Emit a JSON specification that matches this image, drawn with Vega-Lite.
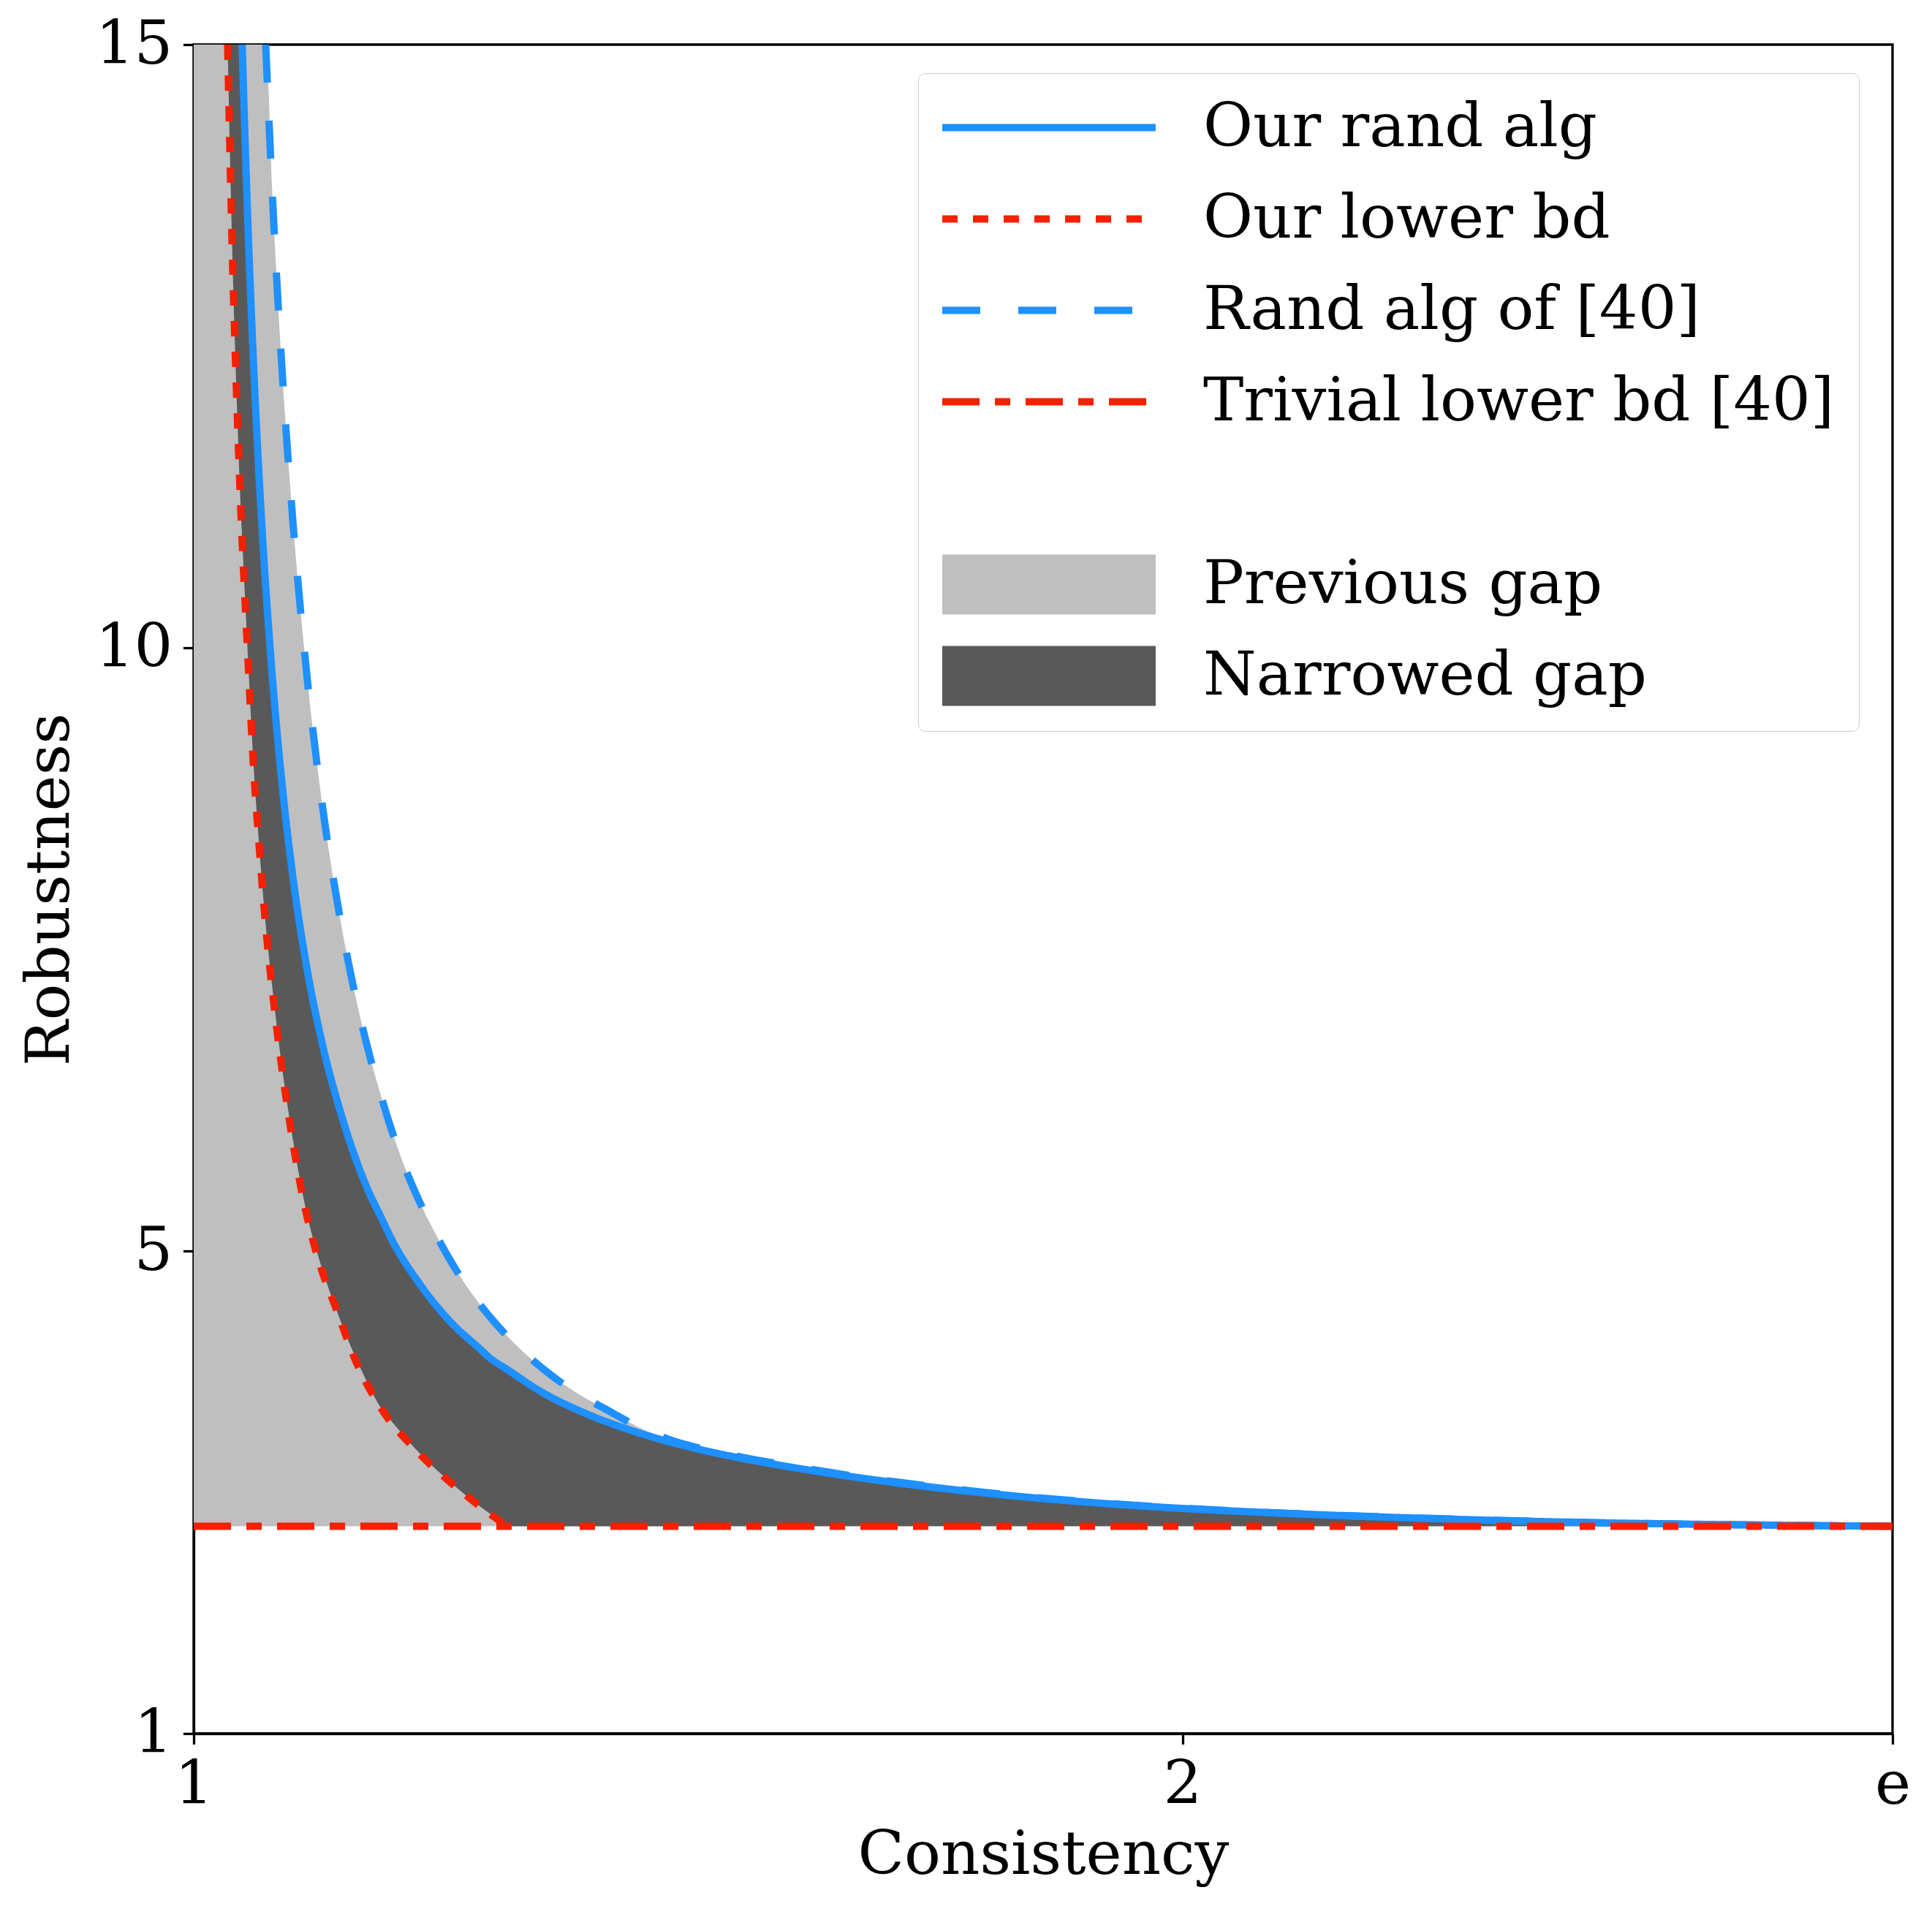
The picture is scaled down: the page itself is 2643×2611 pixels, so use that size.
{
  "$schema": "https://vega.github.io/schema/vega-lite/v6.json",
  "width": 2324,
  "height": 2310,
  "autosize": {"type": "none"},
  "padding": {"left": 265, "top": 61, "right": 54, "bottom": 240},
  "background": "white",
  "config": {
    "font": "DejaVu Serif",
    "view": {"stroke": "black", "strokeWidth": 3.3},
    "axis": {
      "grid": false,
      "labelFont": "DejaVu Serif",
      "labelFontSize": 83,
      "labelColor": "black",
      "labelLimit": 600,
      "titleFont": "DejaVu Serif",
      "titleFontSize": 83,
      "titleFontWeight": "normal",
      "titleColor": "black",
      "domainColor": "black",
      "domainWidth": 3.3,
      "tickColor": "black",
      "tickWidth": 3.3,
      "tickSize": 14.6,
      "labelPadding": 14.6,
      "labelFlush": false,
      "labelOverlap": false,
      "labelBound": false
    }
  },
  "datasets": {
    "gaps": [
      {"label": "Previous gap", "c": 1.0, "top": 15, "bottom": 2.71828},
      {"label": "Previous gap", "c": 1.0728, "top": 15, "bottom": 2.71828},
      {"label": "Previous gap", "c": 1.08, "top": 13.68, "bottom": 2.71828},
      {"label": "Previous gap", "c": 1.09, "top": 12.22, "bottom": 2.71828},
      {"label": "Previous gap", "c": 1.1, "top": 11.08, "bottom": 2.71828},
      {"label": "Previous gap", "c": 1.115, "top": 9.73, "bottom": 2.71828},
      {"label": "Previous gap", "c": 1.13, "top": 8.7, "bottom": 2.71828},
      {"label": "Previous gap", "c": 1.15, "top": 7.67, "bottom": 2.71828},
      {"label": "Previous gap", "c": 1.17, "top": 6.88, "bottom": 2.71828},
      {"label": "Previous gap", "c": 1.19, "top": 6.27, "bottom": 2.71828},
      {"label": "Previous gap", "c": 1.21, "top": 5.77, "bottom": 2.71828},
      {"label": "Previous gap", "c": 1.23, "top": 5.38, "bottom": 2.71828},
      {"label": "Previous gap", "c": 1.25, "top": 5.06, "bottom": 2.71828},
      {"label": "Previous gap", "c": 1.275, "top": 4.72, "bottom": 2.71828},
      {"label": "Previous gap", "c": 1.3, "top": 4.45, "bottom": 2.71828},
      {"label": "Previous gap", "c": 1.33, "top": 4.19, "bottom": 2.71828},
      {"label": "Previous gap", "c": 1.36, "top": 3.98, "bottom": 2.71828},
      {"label": "Previous gap", "c": 1.39, "top": 3.81, "bottom": 2.71828},
      {"label": "Previous gap", "c": 1.42, "top": 3.674, "bottom": 2.71828},
      {"label": "Previous gap", "c": 1.45, "top": 3.54, "bottom": 2.71828},
      {"label": "Previous gap", "c": 1.48, "top": 3.44, "bottom": 2.71828},
      {"label": "Previous gap", "c": 1.5, "top": 3.39, "bottom": 2.71828},
      {"label": "Narrowed gap", "c": 1.0343, "top": 15, "bottom": 15},
      {"label": "Narrowed gap", "c": 1.0391, "top": 15, "bottom": 13.25},
      {"label": "Narrowed gap", "c": 1.043, "top": 15, "bottom": 12.19},
      {"label": "Narrowed gap", "c": 1.0477, "top": 15, "bottom": 11.13},
      {"label": "Narrowed gap", "c": 1.049, "top": 15, "bottom": 10.9},
      {"label": "Narrowed gap", "c": 1.052, "top": 14.19, "bottom": 10.4},
      {"label": "Narrowed gap", "c": 1.056, "top": 13.25, "bottom": 9.73},
      {"label": "Narrowed gap", "c": 1.06, "top": 12.45, "bottom": 9.1},
      {"label": "Narrowed gap", "c": 1.065, "top": 11.59, "bottom": 8.49},
      {"label": "Narrowed gap", "c": 1.07, "top": 10.87, "bottom": 7.96},
      {"label": "Narrowed gap", "c": 1.08, "top": 9.71, "bottom": 7.15},
      {"label": "Narrowed gap", "c": 1.09, "top": 8.82, "bottom": 6.48},
      {"label": "Narrowed gap", "c": 1.1, "top": 8.12, "bottom": 5.94},
      {"label": "Narrowed gap", "c": 1.115, "top": 7.32, "bottom": 5.29},
      {"label": "Narrowed gap", "c": 1.13, "top": 6.72, "bottom": 4.85},
      {"label": "Narrowed gap", "c": 1.15, "top": 6.11, "bottom": 4.39},
      {"label": "Narrowed gap", "c": 1.175, "top": 5.53, "bottom": 3.92},
      {"label": "Narrowed gap", "c": 1.19, "top": 5.27, "bottom": 3.69},
      {"label": "Narrowed gap", "c": 1.2, "top": 5.1, "bottom": 3.59},
      {"label": "Narrowed gap", "c": 1.23, "top": 4.71, "bottom": 3.31},
      {"label": "Narrowed gap", "c": 1.26, "top": 4.41, "bottom": 3.08},
      {"label": "Narrowed gap", "c": 1.29, "top": 4.185, "bottom": 2.88},
      {"label": "Narrowed gap", "c": 1.3, "top": 4.11, "bottom": 2.82},
      {"label": "Narrowed gap", "c": 1.317, "top": 4.018, "bottom": 2.71828},
      {"label": "Narrowed gap", "c": 1.35, "top": 3.84, "bottom": 2.71828},
      {"label": "Narrowed gap", "c": 1.4, "top": 3.641, "bottom": 2.71828},
      {"label": "Narrowed gap", "c": 1.45, "top": 3.493, "bottom": 2.71828},
      {"label": "Narrowed gap", "c": 1.5, "top": 3.378, "bottom": 2.71828},
      {"label": "Narrowed gap", "c": 1.55, "top": 3.288, "bottom": 2.71828},
      {"label": "Narrowed gap", "c": 1.6, "top": 3.214, "bottom": 2.71828},
      {"label": "Narrowed gap", "c": 1.65, "top": 3.148, "bottom": 2.71828},
      {"label": "Narrowed gap", "c": 1.7, "top": 3.09, "bottom": 2.71828},
      {"label": "Narrowed gap", "c": 1.75, "top": 3.039, "bottom": 2.71828},
      {"label": "Narrowed gap", "c": 1.8, "top": 2.994, "bottom": 2.71828},
      {"label": "Narrowed gap", "c": 1.85, "top": 2.954, "bottom": 2.71828},
      {"label": "Narrowed gap", "c": 1.9, "top": 2.92, "bottom": 2.71828},
      {"label": "Narrowed gap", "c": 1.95, "top": 2.891, "bottom": 2.71828},
      {"label": "Narrowed gap", "c": 2.0, "top": 2.866, "bottom": 2.71828},
      {"label": "Narrowed gap", "c": 2.05, "top": 2.845, "bottom": 2.71828},
      {"label": "Narrowed gap", "c": 2.1, "top": 2.827, "bottom": 2.71828},
      {"label": "Narrowed gap", "c": 2.18, "top": 2.801, "bottom": 2.71828},
      {"label": "Narrowed gap", "c": 2.24, "top": 2.785, "bottom": 2.71828},
      {"label": "Narrowed gap", "c": 2.31, "top": 2.768, "bottom": 2.71828},
      {"label": "Narrowed gap", "c": 2.37, "top": 2.756, "bottom": 2.71828},
      {"label": "Narrowed gap", "c": 2.43, "top": 2.746, "bottom": 2.71828},
      {"label": "Narrowed gap", "c": 2.5, "top": 2.737, "bottom": 2.71828},
      {"label": "Narrowed gap", "c": 2.6, "top": 2.727, "bottom": 2.71828},
      {"label": "Narrowed gap", "c": 2.71828, "top": 2.71828, "bottom": 2.71828}
    ],
    "curves": [
      {"label": "Our rand alg", "c": 1.049, "r": 15},
      {"label": "Our rand alg", "c": 1.052, "r": 14.19},
      {"label": "Our rand alg", "c": 1.056, "r": 13.25},
      {"label": "Our rand alg", "c": 1.06, "r": 12.45},
      {"label": "Our rand alg", "c": 1.065, "r": 11.59},
      {"label": "Our rand alg", "c": 1.07, "r": 10.87},
      {"label": "Our rand alg", "c": 1.08, "r": 9.71},
      {"label": "Our rand alg", "c": 1.09, "r": 8.82},
      {"label": "Our rand alg", "c": 1.1, "r": 8.12},
      {"label": "Our rand alg", "c": 1.115, "r": 7.32},
      {"label": "Our rand alg", "c": 1.13, "r": 6.72},
      {"label": "Our rand alg", "c": 1.15, "r": 6.11},
      {"label": "Our rand alg", "c": 1.175, "r": 5.53},
      {"label": "Our rand alg", "c": 1.19, "r": 5.27},
      {"label": "Our rand alg", "c": 1.2, "r": 5.1},
      {"label": "Our rand alg", "c": 1.23, "r": 4.71},
      {"label": "Our rand alg", "c": 1.26, "r": 4.41},
      {"label": "Our rand alg", "c": 1.29, "r": 4.185},
      {"label": "Our rand alg", "c": 1.3, "r": 4.11},
      {"label": "Our rand alg", "c": 1.317, "r": 4.018},
      {"label": "Our rand alg", "c": 1.35, "r": 3.84},
      {"label": "Our rand alg", "c": 1.4, "r": 3.641},
      {"label": "Our rand alg", "c": 1.45, "r": 3.493},
      {"label": "Our rand alg", "c": 1.5, "r": 3.378},
      {"label": "Our rand alg", "c": 1.55, "r": 3.288},
      {"label": "Our rand alg", "c": 1.6, "r": 3.214},
      {"label": "Our rand alg", "c": 1.65, "r": 3.148},
      {"label": "Our rand alg", "c": 1.7, "r": 3.09},
      {"label": "Our rand alg", "c": 1.75, "r": 3.039},
      {"label": "Our rand alg", "c": 1.8, "r": 2.994},
      {"label": "Our rand alg", "c": 1.85, "r": 2.954},
      {"label": "Our rand alg", "c": 1.9, "r": 2.92},
      {"label": "Our rand alg", "c": 1.95, "r": 2.891},
      {"label": "Our rand alg", "c": 2.0, "r": 2.866},
      {"label": "Our rand alg", "c": 2.05, "r": 2.845},
      {"label": "Our rand alg", "c": 2.1, "r": 2.827},
      {"label": "Our rand alg", "c": 2.18, "r": 2.801},
      {"label": "Our rand alg", "c": 2.24, "r": 2.785},
      {"label": "Our rand alg", "c": 2.31, "r": 2.768},
      {"label": "Our rand alg", "c": 2.37, "r": 2.756},
      {"label": "Our rand alg", "c": 2.43, "r": 2.746},
      {"label": "Our rand alg", "c": 2.5, "r": 2.737},
      {"label": "Our rand alg", "c": 2.6, "r": 2.727},
      {"label": "Our rand alg", "c": 2.71828, "r": 2.71828},
      {"label": "Our lower bd", "c": 1.0343, "r": 15},
      {"label": "Our lower bd", "c": 1.0391, "r": 13.25},
      {"label": "Our lower bd", "c": 1.043, "r": 12.19},
      {"label": "Our lower bd", "c": 1.0477, "r": 11.13},
      {"label": "Our lower bd", "c": 1.0543, "r": 10.0},
      {"label": "Our lower bd", "c": 1.0609, "r": 8.96},
      {"label": "Our lower bd", "c": 1.066, "r": 8.38},
      {"label": "Our lower bd", "c": 1.0708, "r": 7.88},
      {"label": "Our lower bd", "c": 1.0834, "r": 6.885},
      {"label": "Our lower bd", "c": 1.095, "r": 6.18},
      {"label": "Our lower bd", "c": 1.11, "r": 5.46},
      {"label": "Our lower bd", "c": 1.1235, "r": 5.0},
      {"label": "Our lower bd", "c": 1.145, "r": 4.5},
      {"label": "Our lower bd", "c": 1.1633, "r": 4.1},
      {"label": "Our lower bd", "c": 1.19, "r": 3.69},
      {"label": "Our lower bd", "c": 1.2227, "r": 3.367},
      {"label": "Our lower bd", "c": 1.265, "r": 3.045},
      {"label": "Our lower bd", "c": 1.29, "r": 2.88},
      {"label": "Our lower bd", "c": 1.317, "r": 2.71828},
      {"label": "Rand alg of [40]", "c": 1.0728, "r": 15},
      {"label": "Rand alg of [40]", "c": 1.08, "r": 13.68},
      {"label": "Rand alg of [40]", "c": 1.09, "r": 12.22},
      {"label": "Rand alg of [40]", "c": 1.1, "r": 11.08},
      {"label": "Rand alg of [40]", "c": 1.115, "r": 9.73},
      {"label": "Rand alg of [40]", "c": 1.13, "r": 8.7},
      {"label": "Rand alg of [40]", "c": 1.15, "r": 7.67},
      {"label": "Rand alg of [40]", "c": 1.17, "r": 6.88},
      {"label": "Rand alg of [40]", "c": 1.19, "r": 6.27},
      {"label": "Rand alg of [40]", "c": 1.21, "r": 5.77},
      {"label": "Rand alg of [40]", "c": 1.23, "r": 5.38},
      {"label": "Rand alg of [40]", "c": 1.25, "r": 5.06},
      {"label": "Rand alg of [40]", "c": 1.275, "r": 4.72},
      {"label": "Rand alg of [40]", "c": 1.3, "r": 4.45},
      {"label": "Rand alg of [40]", "c": 1.33, "r": 4.19},
      {"label": "Rand alg of [40]", "c": 1.36, "r": 3.98},
      {"label": "Rand alg of [40]", "c": 1.39, "r": 3.81},
      {"label": "Rand alg of [40]", "c": 1.42, "r": 3.674},
      {"label": "Rand alg of [40]", "c": 1.45, "r": 3.54},
      {"label": "Rand alg of [40]", "c": 1.48, "r": 3.44},
      {"label": "Rand alg of [40]", "c": 1.5, "r": 3.39},
      {"label": "Rand alg of [40]", "c": 1.55, "r": 3.298},
      {"label": "Rand alg of [40]", "c": 1.6, "r": 3.224},
      {"label": "Rand alg of [40]", "c": 1.65, "r": 3.156},
      {"label": "Rand alg of [40]", "c": 1.7, "r": 3.097},
      {"label": "Rand alg of [40]", "c": 1.75, "r": 3.045},
      {"label": "Rand alg of [40]", "c": 1.8, "r": 2.999},
      {"label": "Rand alg of [40]", "c": 1.85, "r": 2.958},
      {"label": "Rand alg of [40]", "c": 1.9, "r": 2.923},
      {"label": "Rand alg of [40]", "c": 1.95, "r": 2.893},
      {"label": "Rand alg of [40]", "c": 2.0, "r": 2.868},
      {"label": "Rand alg of [40]", "c": 2.1, "r": 2.828},
      {"label": "Rand alg of [40]", "c": 2.24, "r": 2.786},
      {"label": "Rand alg of [40]", "c": 2.43, "r": 2.746},
      {"label": "Rand alg of [40]", "c": 2.6, "r": 2.727},
      {"label": "Rand alg of [40]", "c": 2.71828, "r": 2.71828},
      {"label": "Trivial lower bd [40]", "c": 1.0, "r": 2.71828},
      {"label": "Trivial lower bd [40]", "c": 2.71828, "r": 2.71828}
    ]
  },
  "layer": [
    {
      "data": {"name": "gaps"},
      "mark": {"type": "area", "clip": true, "opacity": 1, "interpolate": "monotone"},
      "encoding": {
        "x": {
          "field": "c",
          "type": "quantitative",
          "scale": {"domain": [1, 2.718281828459045], "nice": false, "zero": false},
          "axis": {
            "title": "Consistency",
            "values": [1, 2, 2.718281828459045],
            "labelExpr": "datum.value > 2.5 ? 'e' : format(datum.value, 'd')",
            "titlePadding": 13
          }
        },
        "y": {
          "field": "top",
          "type": "quantitative",
          "stack": null,
          "scale": {"domain": [1, 15], "nice": false, "zero": false},
          "axis": {"title": "Robustness", "values": [1, 5, 10, 15], "format": "d", "titlePadding": 20}
        },
        "y2": {"field": "bottom"},
        "fill": {
          "field": "label",
          "type": "nominal",
          "scale": {
            "domain": ["Our rand alg", "Our lower bd", "Rand alg of [40]", "Trivial lower bd [40]", " ", "Previous gap", "Narrowed gap"],
            "range": ["transparent", "transparent", "transparent", "transparent", "transparent", "#bfbfbf", "#595959"]
          },
          "legend": {
            "title": null, "orient": "none", "legendX": 991, "legendY": 39,
            "symbolType": "stroke", "symbolSize": 85264, "clipHeight": 83,
            "rowPadding": 41, "padding": 33, "symbolOffset": -41, "labelOffset": 24,
            "labelFont": "DejaVu Serif", "labelFontSize": 83, "labelColor": "black", "labelLimit": 2000,
            "strokeColor": "#cccccc", "fillColor": "white", "cornerRadius": 10, "symbolOpacity": 1
          }
        }
      }
    },
    {
      "data": {"name": "curves"},
      "mark": {"type": "line", "clip": true, "interpolate": "monotone"},
      "encoding": {
        "x": {"field": "c", "type": "quantitative", "axis": {"title": "Consistency"}},
        "y": {"field": "r", "type": "quantitative", "axis": {"title": "Robustness"}},
        "stroke": {
          "field": "label",
          "type": "nominal",
          "scale": {
            "domain": ["Our rand alg", "Our lower bd", "Rand alg of [40]", "Trivial lower bd [40]", " ", "Previous gap", "Narrowed gap"],
            "range": ["#1e90ff", "#f52000", "#1e90ff", "#f52000", "transparent", "#bfbfbf", "#595959"]
          },
          "legend": {
            "title": null, "orient": "none", "legendX": 991, "legendY": 39,
            "symbolType": "stroke", "symbolSize": 85264, "clipHeight": 83,
            "rowPadding": 41, "padding": 33, "symbolOffset": -41, "labelOffset": 24,
            "labelFont": "DejaVu Serif", "labelFontSize": 83, "labelColor": "black", "labelLimit": 2000,
            "strokeColor": "#cccccc", "fillColor": "white", "cornerRadius": 10, "symbolOpacity": 1
          }
        },
        "strokeDash": {
          "field": "label",
          "type": "nominal",
          "scale": {
            "domain": ["Our rand alg", "Our lower bd", "Rand alg of [40]", "Trivial lower bd [40]", " ", "Previous gap", "Narrowed gap"],
            "range": [[1, 0], [21, 21], [52, 52], [51, 21, 21, 21], [1, 0], [1, 0], [1, 0]]
          },
          "legend": {
            "title": null, "orient": "none", "legendX": 991, "legendY": 39,
            "symbolType": "stroke", "symbolSize": 85264, "clipHeight": 83,
            "rowPadding": 41, "padding": 33, "symbolOffset": -41, "labelOffset": 24,
            "labelFont": "DejaVu Serif", "labelFontSize": 83, "labelColor": "black", "labelLimit": 2000,
            "strokeColor": "#cccccc", "fillColor": "white", "cornerRadius": 10, "symbolOpacity": 1
          }
        },
        "strokeWidth": {
          "field": "label",
          "type": "nominal",
          "scale": {
            "type": "ordinal",
            "domain": ["Our rand alg", "Our lower bd", "Rand alg of [40]", "Trivial lower bd [40]", " ", "Previous gap", "Narrowed gap"],
            "range": [10, 10, 10, 10, 10, 82, 82]
          },
          "legend": {
            "title": null, "orient": "none", "legendX": 991, "legendY": 39,
            "symbolType": "stroke", "symbolSize": 85264, "clipHeight": 83,
            "rowPadding": 41, "padding": 33, "symbolOffset": -41, "labelOffset": 24,
            "labelFont": "DejaVu Serif", "labelFontSize": 83, "labelColor": "black", "labelLimit": 2000,
            "strokeColor": "#cccccc", "fillColor": "white", "cornerRadius": 10, "symbolOpacity": 1
          }
        }
      }
    }
  ]
}
